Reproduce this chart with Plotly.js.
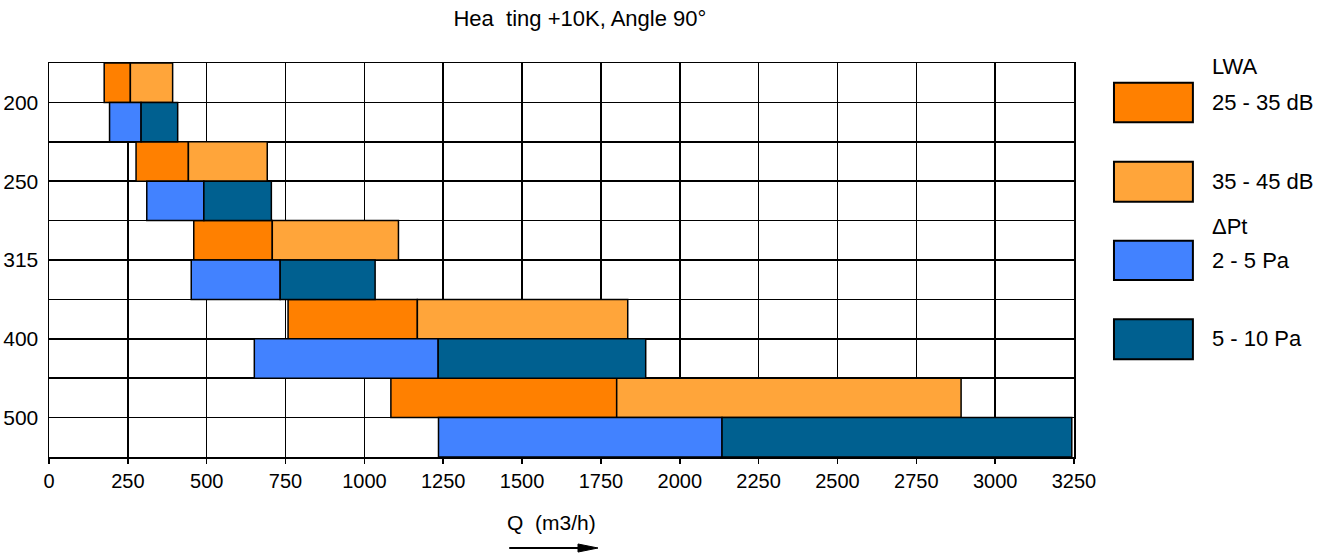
<!DOCTYPE html>
<html>
<head>
<meta charset="utf-8">
<script src="https://cdn.plot.ly/plotly-3.0.1.min.js"></script>
<style>html,body{margin:0;padding:0;background:#fff;}#chart{width:1324px;height:554px;}</style>
</head>
<body>
<div id="chart"></div>
<script>
// ---- data ----
const sizes = ['200', '250', '315', '400', '500'];
const lwaLowStart  = [175, 276, 459, 758, 1084];   // 25 - 35 dB start (m3/h)
const lwaLowEnd    = [258, 442, 708, 1168, 1800];  // 25 - 35 dB end / 35 - 45 dB start
const lwaHighEnd   = [392, 692, 1108, 1835, 2892]; // 35 - 45 dB end
const ptLowStart   = [192, 310, 451, 651, 1235];   // 2 - 5 Pa start
const ptLowEnd     = [292, 491, 733, 1234, 2134];  // 2 - 5 Pa end / 5 - 10 Pa start
const ptHighEnd    = [408, 705, 1034, 1892, 3243]; // 5 - 10 Pa end
const seriesNames  = ['25 - 35 dB', '35 - 45 dB', '2 - 5 Pa', '5 - 10 Pa'];
const groupNames   = ['LWA', 'ΔPt'];
const xTicks = [0, 250, 500, 750, 1000, 1250, 1500, 1750, 2000, 2250, 2500, 2750, 3000, 3250];

// ---- styling ----
const colors = ['#FF8000', '#FFA53A', '#4282FF', '#006090'];
const FONT = 'Arial, "Liberation Sans", sans-serif';

const lwaRow = sizes.map((s, i) => 2 * i + 0.5);
const ptRow  = sizes.map((s, i) => 2 * i + 1.5);

function seg(name, rows, starts, ends, color) {
  return {
    type: 'bar', orientation: 'h', name: name,
    y: rows,
    base: starts,
    x: ends.map((e, i) => e - starts[i]),
    width: 1,
    marker: {color: color, line: {color: '#000', width: 1.5}},
    hoverinfo: 'skip', showlegend: false
  };
}

const traces = [
  seg(seriesNames[0], lwaRow, lwaLowStart, lwaLowEnd, colors[0]),
  seg(seriesNames[1], lwaRow, lwaLowEnd, lwaHighEnd, colors[1]),
  seg(seriesNames[2], ptRow, ptLowStart, ptLowEnd, colors[2]),
  seg(seriesNames[3], ptRow, ptLowEnd, ptHighEnd, colors[3])
];

const yTickVals = [], yTickText = [];
for (let k = 0; k <= sizes.length * 2; k++) {
  yTickVals.push(k);
  yTickText.push(k % 2 === 1 ? sizes[(k - 1) / 2] : '');
}

// manual legend (large boxes as in the reference)
const boxX0 = 1.039, boxX1 = 1.116, textX = 1.133;
const boxY = [[0.950, 0.8495], [0.7495, 0.648], [0.549, 0.449], [0.3495, 0.248]];
const labelY = [0.901, 0.7005, 0.5, 0.2995];
const headerY = [0.9906, 0.5845];

const shapes = [];
const annotations = [];
boxY.forEach((b, i) => {
  shapes.push({type: 'rect', xref: 'paper', yref: 'paper', x0: boxX0, x1: boxX1, y0: b[1], y1: b[0],
    fillcolor: colors[i], line: {color: '#000', width: 2}});
  annotations.push({xref: 'paper', yref: 'paper', x: textX, y: labelY[i], xanchor: 'left', yanchor: 'middle',
    text: seriesNames[i], showarrow: false, font: {family: FONT, size: 22, color: '#000'}});
});
groupNames.forEach((g, i) => {
  annotations.push({xref: 'paper', yref: 'paper', x: textX, y: headerY[i], xanchor: 'left', yanchor: 'middle',
    text: g, showarrow: false, font: {family: FONT, size: 22, color: '#000'}});
});
// axis title + arrow
annotations.push({xref: 'paper', yref: 'paper', x: 0.4907, y: -0.1675, xanchor: 'center', yanchor: 'middle',
  text: 'Q  (m3/h)', showarrow: false, font: {family: FONT, size: 21, color: '#000'}});
shapes.push({type: 'line', xref: 'paper', yref: 'paper', x0: 0.449, x1: 0.52, y0: -0.231, y1: -0.231,
  line: {color: '#000', width: 2}});
shapes.push({type: 'path', xref: 'paper', yref: 'paper',
  path: 'M 0.5161 -0.2208 L 0.5356 -0.231 L 0.5161 -0.2412 Z', fillcolor: '#000', line: {color: '#000', width: 1}});

const layout = {
  width: 1324, height: 554,
  margin: {l: 49, r: 250, t: 63, b: 97, pad: 0},
  paper_bgcolor: '#fff', plot_bgcolor: '#fff',
  font: {family: FONT, size: 20, color: '#000'},
  title: {text: 'Hea  ting +10K, Angle 90°', xref: 'container', x: 0.438, xanchor: 'center',
          yref: 'container', y: 0.9675, yanchor: 'middle', font: {family: FONT, size: 22, color: '#000'}},
  barmode: 'overlay',
  showlegend: false,
  xaxis: {
    range: [0, 3250], tickvals: xTicks, ticktext: xTicks.map(String),
    showgrid: true, gridcolor: '#000', gridwidth: 1.5,
    showline: true, linecolor: '#000', linewidth: 1.5, mirror: true,
    ticks: 'outside', ticklen: 5, tickcolor: '#000', tickwidth: 1.5,
    zeroline: false, tickfont: {family: FONT, size: 20, color: '#000'}
  },
  yaxis: {
    range: [sizes.length * 2, 0], tickvals: yTickVals, ticktext: yTickText,
    showgrid: true, gridcolor: '#000', gridwidth: 1.5,
    showline: true, linecolor: '#000', linewidth: 1.5, mirror: true,
    ticks: '', zeroline: false, ticklabelstandoff: 5,
    tickfont: {family: FONT, size: 21, color: '#000'}
  },
  shapes: shapes,
  annotations: annotations
};

Plotly.newPlot('chart', traces, layout, {staticPlot: true, displayModeBar: false});
</script>
</body>
</html>
